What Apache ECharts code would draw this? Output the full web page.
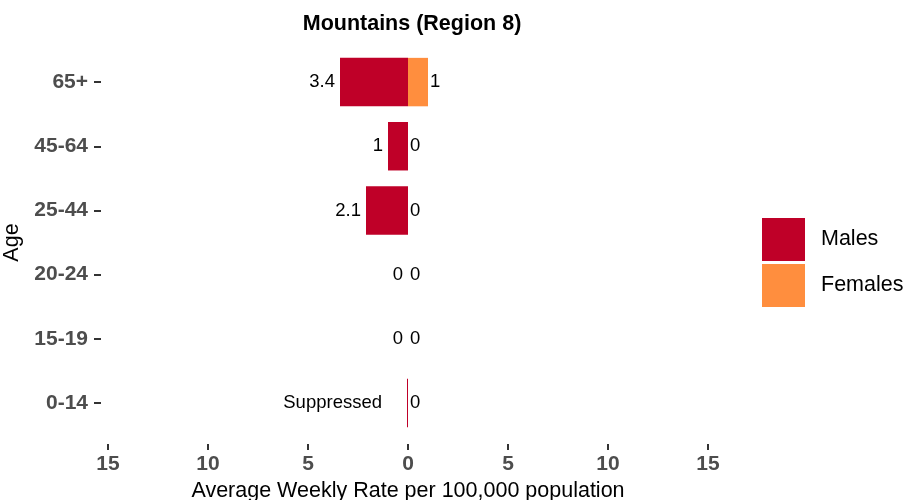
<!DOCTYPE html>
<html><head><meta charset="utf-8">
<script src="https://cdn.jsdelivr.net/npm/echarts@6/dist/echarts.min.js"></script>
<style>html,body{margin:0;padding:0;background:#fff}#c{width:904px;height:500px}</style>
</head><body><div id="c"></div>
<script>
const categories = ['0-14','15-19','20-24','25-44','45-64','65+'];
const males = [0.05, 0, 0, 2.1, 1, 3.4];
const maleLabels = ['Suppressed','0','0','2.1','1','3.4'];
const females = [0, 0, 0, 0, 0, 1];
const femaleLabels = ['0','0','0','0','0','1'];
const xTicks = [-15,-10,-5,0,5,10,15];

const font = 'Liberation Sans, Arial, sans-serif';
const chart = echarts.init(document.getElementById('c'), null, {renderer:'canvas'});
chart.setOption({
  animation:false,
  title:{text:'Mountains (Region 8)', left:407, top:8, textAlign:'center',
    textStyle:{fontFamily:font, fontWeight:'bold', fontSize:21.5, color:'#000'}},
  grid:{left:108, right:196, top:50, bottom:65, outerBoundsMode:'none'},
  legend:{orient:'vertical', left:762, top:218, padding:0, itemWidth:43, itemHeight:43, itemGap:3,
    icon:'rect', data:['Males','Females'],
    textStyle:{fontFamily:font, fontSize:21.5, color:'#000', padding:[6,0,0,11]}},
  xAxis:{type:'value', min:xTicks[0], max:xTicks[xTicks.length-1], interval:5, offset:9,
    axisLine:{show:false}, splitLine:{show:false},
    axisTick:{show:true, length:6, lineStyle:{color:'#333', width:2}},
    axisLabel:{margin:10, fontFamily:font, fontWeight:'bold', fontSize:21, color:'#4D4D4D',
      formatter:v=>String(Math.abs(v))},
    name:'Average Weekly Rate per 100,000 population', nameLocation:'middle', nameGap:31,
    nameTextStyle:{fontFamily:font, fontSize:21.5, color:'#000'}},
  yAxis:{type:'category', data:categories, offset:7,
    axisLine:{show:false, onZero:false},
    axisTick:{show:true, length:7, alignWithLabel:true, lineStyle:{color:'#333', width:2}},
    axisLabel:{margin:13, fontFamily:font, fontWeight:'bold', fontSize:21, color:'#4D4D4D'},
    name:'Age', nameLocation:'middle', nameRotate:90, nameGap:72,
    nameTextStyle:{fontFamily:font, fontSize:21.5, color:'#000'}},
  series:[
    {name:'Males', type:'bar', barWidth:'75.5%', barGap:'-100%',
      itemStyle:{color:'#BF0028'},
      data:males.map((v,i)=>({value:-v,
        label: i===0 ? {distance:25} : undefined})),
      label:{show:true, position:'left', distance:5, fontFamily:font, fontSize:18.5, color:'#000',
        formatter:p=>maleLabels[p.dataIndex]}},
    {name:'Females', type:'bar', barWidth:'75.5%', barGap:'-100%',
      itemStyle:{color:'#FF8E3E'},
      data:females,
      label:{show:true, position:'right', distance:2, fontFamily:font, fontSize:18.5, color:'#000',
        formatter:p=>femaleLabels[p.dataIndex]}}
  ]
});
</script></body></html>
